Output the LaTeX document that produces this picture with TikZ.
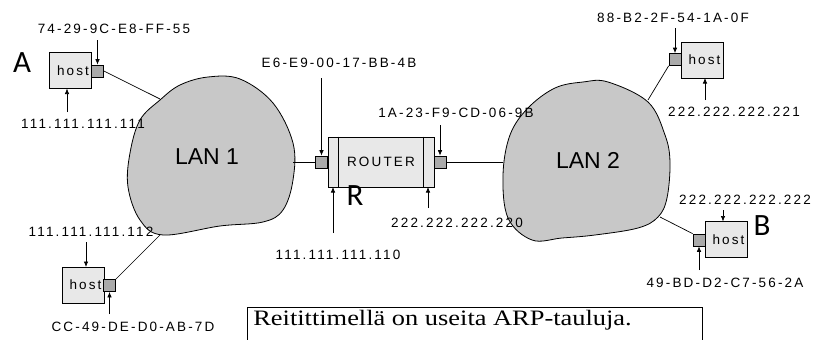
\documentclass[tikz,border=0pt]{standalone}
\usepackage{fontspec}
\usetikzlibrary{arrows.meta}
\newfontfamily\lblfont[LetterSpace=16]{Liberation Sans}
\newfontfamily\lanfont{Liberation Sans}
\newfontfamily\bigfont{Carlito}
\setmainfont{Liberation Serif}
\definecolor{hostgray}{RGB}{232,232,232}
\definecolor{portgray}{RGB}{170,170,170}
\definecolor{langray}{RGB}{200,200,200}
\tikzset{
  hostbox/.style={draw, fill=hostgray, inner sep=0pt, minimum width=42pt, minimum height=36pt, font=\lblfont\fontsize{13.5}{15}\selectfont},
  portbox/.style={draw, fill=portgray, inner sep=0pt, minimum width=12pt, minimum height=12pt},
  lbl/.style={inner sep=1pt, font=\lblfont\fontsize{13.5}{15}\selectfont},
  arr/.style={-{Latex[length=5.5pt,width=4.5pt]}, line width=0.7pt},
  wire/.style={line width=0.7pt},
  bigletter/.style={inner sep=0pt, font=\bigfont\fontsize{31}{33}\selectfont},
  lanlbl/.style={inner sep=0pt, font=\lanfont\fontsize{23}{25}\selectfont},
}
\begin{document}
\begin{tikzpicture}[x=1pt, y=-1pt, line width=0.7pt]
\useasboundingbox (0,0) rectangle (815,340);
\fill[white] (0,0) rectangle (815,340);

% LAN 1 cloud
\draw[fill=langray, line width=0.8pt] plot[smooth cycle, tension=0.6] coordinates {
  (208,77) (240,79) (273,103) (293,143) (293,180) (283,210) (263,222)
  (220,226) (163,235) (140,220) (128,187) (130,153) (140,120) (160,100) (180,85)};
% LAN 2 cloud
\draw[fill=langray, line width=0.8pt] plot[smooth cycle, tension=0.6] coordinates {
  (583,82) (608,82) (648,102) (665,135) (670,162) (667,198) (658,217) (638,228)
  (595,235) (562,238) (532,240) (508,218) (503,175) (510,135) (528,108) (555,88)};
\node[lanlbl] (lan1) at (207,157) {LAN 1};
\node[lanlbl] (lan2) at (588,160) {LAN 2};
\coordinate (l1a) at (160,99);
\coordinate (l1b) at (160,235);
\coordinate (l1r) at (293,162);
\coordinate (l2l) at (503,162);
\coordinate (l2a) at (648,100);
\coordinate (l2b) at (660,217);

% Router
\node[draw, fill=hostgray, inner sep=0pt, minimum width=106pt, minimum height=50pt,
      font=\lblfont\fontsize{13.5}{15}\selectfont] (router) at (381,162) {ROUTER};
\draw (router.north west) ++(11,0) coordinate (rl1) -- (rl1 |- router.south);
\draw (router.north east) ++(-11,0) coordinate (rl2) -- (rl2 |- router.south);
\node[portbox] (rpl) at (321.5,162) {};
\node[portbox] (rpr) at (440,162) {};
\node[bigletter] (R) at (355,196) {R};

% Hosts
\node[hostbox] (hA) at (70.5,70.5) {\hspace*{5pt}host};
\node[portbox] (pA) at (97.5,71) {};
\node[bigletter] (A) at (22,63) {A};

\node[hostbox] (hC) at (83,285) {\hspace*{5pt}host};
\node[portbox] (pC) at (109.5,285.5) {};

\node[hostbox] (hD) at (702,60) {\hspace*{5pt}host};
\node[portbox] (pD) at (675,59.5) {};

\node[hostbox] (hB) at (726,239.5) {\hspace*{5pt}host};
\node[portbox] (pB) at (699,240) {};
\node[bigletter] (B) at (762,226) {B};

% wires
\draw[wire] (pA.east) -- (l1a);
\draw[wire] (pC.north east) -- (l1b);
\draw[wire] (l1r) -- (rpl.west);
\draw[wire] (rpr.east) -- (l2l);
\draw[wire] (pD.south west) -- (l2a);
\draw[wire] (pB.north west) -- (l2b);

% labels
\node[lbl] (tA1) at (114,29) {74-29-9C-E8-FF-55};
\node[lbl] (tA2) at (83,124) {111.111.111.111};
\node[lbl] (tR1) at (339,63) {E6-E9-00-17-BB-4B};
\node[lbl] (tR2) at (456,113) {1A-23-F9-CD-06-9B};
\node[lbl] (tR3) at (338,255) {111.111.111.110};
\node[lbl] (tR4) at (457,223) {222.222.222.220};
\node[lbl] (tD1) at (673,18) {88-B2-2F-54-1A-0F};
\node[lbl] (tD2) at (734,112) {222.222.222.221};
\node[lbl] (tB1) at (745,200) {222.222.222.222};
\node[lbl] (tB2) at (725,283) {49-BD-D2-C7-56-2A};
\node[lbl] (tC1) at (91,232) {111.111.111.112};
\node[lbl] (tC2) at (133,327) {CC-49-DE-D0-AB-7D};

% arrows
\draw[arr] (pA.north |- 0,40) -- (pA.north);
\draw[arr] (67,112) -- (67,88.5);
\draw[arr] (rpl.north |- 0,78) -- (rpl.north);
\draw[arr] (rpr.north |- 0,125) -- (rpr.north);
\draw[arr] (333,233) -- (333,187);
\draw[arr] (428,208) -- (428,187);
\draw[arr] (pD.north |- 0,28) -- (pD.north);
\draw[arr] (705,100) -- (705,78);
\draw[arr] (723,210) -- (723,221.5);
\draw[arr] (pB.south |- 0,270) -- (pB.south);
\draw[arr] (86,242) -- (86,267);
\draw[arr] (pC.south |- 0,314) -- (pC.south);

% text box
\draw[line width=0.8pt] (247,345) -- (247,307) -- (702,307) -- (702,345);
\node[anchor=base west, inner sep=0pt, font=\fontsize{22}{24}\selectfont] (note) at (253,325) {\scalebox{1.2}[1]{Reitittimellä on useita ARP-tauluja.}};
\end{tikzpicture}
\end{document}
